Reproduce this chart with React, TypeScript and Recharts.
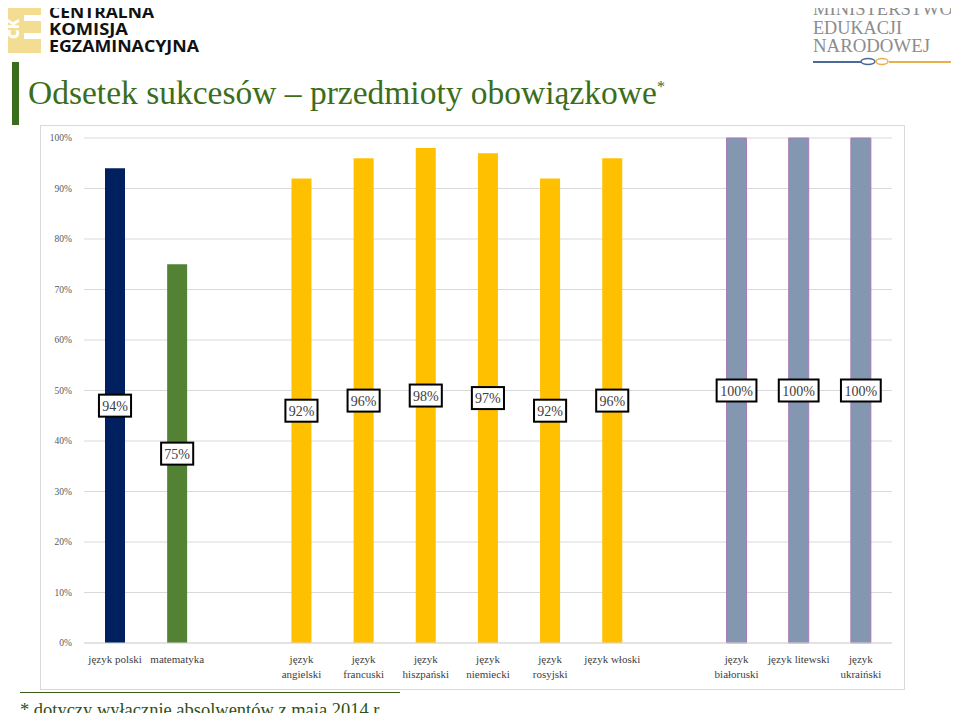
import { BarChart, Bar, XAxis, YAxis, CartesianGrid, Cell, LabelList } from 'recharts';

const categories = [
  'język polski', 'matematyka', '', 'język angielski', 'język francuski', 'język hiszpański',
  'język niemiecki', 'język rosyjski', 'język włoski', '', 'język białoruski', 'język litewski', 'język ukraiński',
];
const tickLines = [
  ['język polski'], ['matematyka'], [], ['język', 'angielski'], ['język', 'francuski'], ['język', 'hiszpański'],
  ['język', 'niemiecki'], ['język', 'rosyjski'], ['język włoski'], [], ['język', 'białoruski'], ['język litewski'], ['język', 'ukraiński'],
];
const values = [94, 75, null, 92, 96, 98, 97, 92, 96, null, 100, 100, 100];
const groups = ['polski', 'mat', '', 'obce', 'obce', 'obce', 'obce', 'obce', 'obce', '', 'mniejsz', 'mniejsz', 'mniejsz'];
const yTicks = [0, 10, 20, 30, 40, 50, 60, 70, 80, 90, 100];

const fills: Record<string, string> = { polski: '#002060', mat: '#548235', obce: '#ffc000', mniejsz: '#8497b0' };
const strokes: Record<string, string> = { polski: 'none', mat: 'none', obce: 'none', mniejsz: '#a77bb8' };

const data = categories.map((name, i) => ({ name, value: values[i], group: groups[i] }));

const serif = '"Liberation Serif", "DejaVu Serif", serif';

function XTick(props: any) {
  const { x, y, index } = props;
  const lines = tickLines[index] || [];
  return (
    <text x={x} y={y} textAnchor="middle" fontFamily={serif} fontSize={11} fill="#404040">
      {lines.map((l, k) => (
        <tspan key={k} x={x} dy={k === 0 ? 12 : 15}>{l}</tspan>
      ))}
    </text>
  );
}

function BoxLabel(props: any) {
  const { x, y, width, height, value } = props;
  if (value == null) return null;
  const txt = `${value}%`;
  const w = txt.length * 7.7 + 9;
  const cx = x + width / 2;
  const cy = y + height / 2;
  return (
    <g>
      <rect x={cx - w / 2} y={cy - 11} width={w} height={22} fill="#fff" stroke="#000" strokeWidth={2} />
      <text x={cx} y={cy + 5} textAnchor="middle" fontFamily={serif} fontSize={14} fill="#404040">{txt}</text>
    </g>
  );
}

export default function App() {
  return (
    <div style={{ position: 'relative', width: 959, height: 721, margin: -8, background: '#fff', overflow: 'hidden', fontFamily: serif }}>
      {/* logos */}
      <svg width={959} height={70} style={{ position: 'absolute', left: 0, top: 0 }}>
        <rect x={6} y={4} width={35} height={49} fill="#f3dd93" />
        <text x={0} y={0} transform="translate(19,29) rotate(-90)" textAnchor="middle" fontFamily='"Open Sans", sans-serif' fontWeight={800} fontSize={15} fill="#fff">CK</text>
        <rect x={24} y={15} width={17} height={6} fill="#fff" />
        <rect x={24} y={33} width={17} height={6} fill="#fff" />
        <g fontFamily='"Open Sans", sans-serif' fontWeight={700} fontSize={16} fill="#111">
          <text x={49} y={17.5} textLength={105} lengthAdjust="spacingAndGlyphs">CENTRALNA</text>
          <text x={49} y={34.5} textLength={79} lengthAdjust="spacingAndGlyphs">KOMISJA</text>
          <text x={49} y={51.5} textLength={150} lengthAdjust="spacingAndGlyphs">EGZAMINACYJNA</text>
        </g>
        <g fontFamily={serif} fontSize={19} fill="#8c8c8c">
          <text x={813} y={15} textLength={140} lengthAdjust="spacingAndGlyphs">MINISTERSTWO</text>
          <text x={813} y={33.5} textLength={89} lengthAdjust="spacingAndGlyphs">EDUKACJI</text>
          <text x={813} y={52} textLength={117} lengthAdjust="spacingAndGlyphs">NARODOWEJ</text>
        </g>
        <line x1={813} y1={62} x2={861} y2={62} stroke="#4a6a99" strokeWidth={2} />
        <ellipse cx={868} cy={61.5} rx={7} ry={3} fill="none" stroke="#4a6a99" strokeWidth={1.5} />
        <ellipse cx={882} cy={61.5} rx={6} ry={3} fill="none" stroke="#e8b04a" strokeWidth={1.5} />
        <line x1={889} y1={62} x2={953} y2={62} stroke="#e8b04a" strokeWidth={2} />
      </svg>
      {/* Title */}
      <div style={{ position: 'absolute', left: 12, top: 62, width: 7, height: 63, background: '#3b6e1c' }} />
      <div style={{ position: 'absolute', left: 28, top: 74, fontFamily: serif, fontSize: 33.5, color: '#3b6e1c', whiteSpace: 'nowrap' }}>
        Odsetek sukcesów – przedmioty obowiązkowe<sup style={{ fontSize: 16 }}>*</sup>
      </div>
      {/* Chart */}
      <div style={{ position: 'absolute', left: 40, top: 125, width: 863, height: 563, border: '1px solid #d9d9d9' }}>
        <BarChart width={863} height={563} data={data} margin={{ top: 12, right: 12, bottom: 0, left: 8 }} barSize={20}>
          <CartesianGrid vertical={false} stroke="#d9d9d9" />
          <YAxis
            domain={[0, 100]}
            ticks={yTicks}
            width={35}
            axisLine={false}
            tickLine={false}
            tickSize={0}
            tickMargin={12}
            tickFormatter={(v: number) => `${v}%`}
            tick={{ fontFamily: serif, fontSize: 9.5, fill: '#595959' }}
          />
          <XAxis
            dataKey="name"
            interval={0}
            height={46}
            axisLine={{ stroke: '#d9d9d9' }}
            tickLine={false}
            tick={<XTick />}
          />
          <Bar dataKey="value" isAnimationActive={false}>
            {data.map((d, i) => (
              <Cell key={i} fill={fills[d.group] || '#fff'} stroke={strokes[d.group] || 'none'} strokeWidth={1} />
            ))}
            <LabelList dataKey="value" content={<BoxLabel />} />
          </Bar>
        </BarChart>
      </div>
      {/* Footnote */}
      <div style={{ position: 'absolute', left: 20, top: 692, width: 380, height: 1, background: '#3b5a1c' }} />
      <svg width={400} height={28} style={{ position: 'absolute', left: 0, top: 693 }}>
        <text x={20} y={22.5} fontFamily={serif} fontSize={19} fill="#2f4f1a" textLength={363} lengthAdjust="spacingAndGlyphs">
          * dotyczy wyłącznie absolwentów z maja 2014 r.
        </text>
      </svg>
    </div>
  );
}
